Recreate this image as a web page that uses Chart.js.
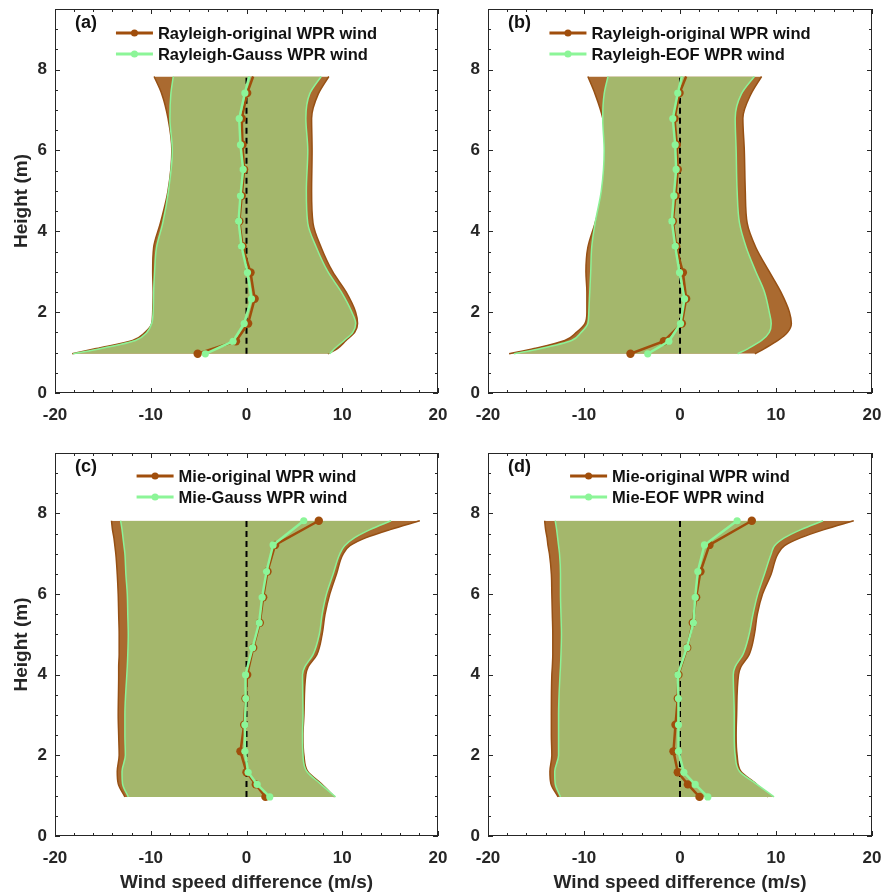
<!DOCTYPE html>
<html>
<head>
<meta charset="utf-8">
<script src="https://cdn.jsdelivr.net/npm/chart.js@4.4.1/dist/chart.umd.min.js"></script>
<style>
  body { margin: 0; background: #fff; }
  #wrap { position: relative; width: 882px; height: 894px; overflow: hidden; }
  canvas { position: absolute; }
</style>
</head>
<body>
<div id="wrap">
  <canvas id="chartA" width="470" height="430" style="left:0;top:0"></canvas>
  <canvas id="chartC" width="470" height="464" style="left:0;top:430px"></canvas>
  <canvas id="chartB" width="441" height="430" style="left:441px;top:0"></canvas>
  <canvas id="chartD" width="441" height="464" style="left:441px;top:430px"></canvas>
</div>
<script>
// heights (km) of the mean profiles
const rayleighH = [0.97, 1.28, 1.72, 2.33, 2.98, 3.63, 4.25, 4.88, 5.53, 6.14, 6.79, 7.42, 7.83];
const mieH = [0.97, 1.28, 1.58, 2.10, 2.76, 3.41, 4.00, 4.67, 5.29, 5.92, 6.56, 7.22, 7.82];
// heights at which the band edges are read
const bandRH = [0.97, 1.1, 1.3, 1.5, 1.72, 2.0, 2.5, 3.0, 3.6, 4.2, 5.0, 6.0, 6.8, 7.4, 7.83];
const bandMH = [0.97, 1.3, 1.6, 2.0, 2.5, 3.0, 4.0, 4.2, 4.5, 5.0, 5.5, 6.0, 6.5, 7.0, 7.2, 7.4, 7.6, 7.82];

const xTicks = [-20, -10, 0, 10, 20];
const yTicks = [0, 2, 4, 6, 8];

// (a) Rayleigh original vs Gauss
const aOrigMean = [-5.1, -1.1, 0.17, 0.85, 0.42, -0.42, -0.75, -0.5, -0.25, -0.42, -0.5, 0.07, 0.69];
const aGaussMean = [-4.3, -1.4, -0.24, 0.52, 0.1, -0.52, -0.83, -0.63, -0.35, -0.63, -0.76, -0.17, 0.28];
const aOrigLow = [-18.2, -15.7, -11.9, -10.6, -9.9, -9.8, -9.75, -9.8, -9.7, -9.0, -8.2, -7.8, -8.2, -8.85, -9.65];
const aOrigHigh = [8.5, 9.5, 10.4, 11.3, 11.6, 11.4, 10.4, 9.0, 7.8, 6.95, 6.8, 6.85, 6.8, 7.5, 8.6];
const aGaussLow = [-18.1, -15.2, -11.6, -10.4, -9.9, -9.75, -9.7, -9.6, -9.4, -8.75, -8.15, -7.75, -8.0, -7.9, -7.65];
const aGaussHigh = [8.7, 9.2, 10.2, 11.1, 11.4, 11.0, 9.9, 8.5, 7.3, 6.4, 6.25, 6.4, 6.2, 6.6, 7.8];

// (b) Rayleigh original vs EOF
const bOrigMean = [-5.16, -1.68, 0.19, 0.64, 0.3, -0.4, -0.75, -0.47, -0.23, -0.33, -0.57, -0.05, 0.64];
const bEofMean = [-3.36, -1.16, 0.05, 0.47, -0.05, -0.5, -0.85, -0.64, -0.4, -0.5, -0.75, -0.23, 0.19];
const bOrigLow = [-17.8, -15.2, -12.0, -10.8, -9.9, -9.7, -9.7, -9.8, -9.6, -8.85, -7.95, -7.7, -8.05, -8.85, -9.6];
const bOrigHigh = [7.8, 8.8, 10.2, 11.2, 11.6, 11.4, 10.5, 9.3, 7.9, 7.0, 6.8, 6.7, 6.55, 7.4, 8.5];
const bEofLow = [-17.3, -14.5, -11.3, -10.3, -9.6, -9.5, -9.4, -9.3, -9.2, -8.85, -8.2, -7.9, -8.05, -7.9, -7.5];
const bEofHigh = [6.0, 7.1, 8.5, 9.3, 9.5, 9.3, 8.8, 7.9, 6.9, 6.2, 5.95, 5.85, 5.75, 6.4, 7.75];

// (c) Mie original vs Gauss
const cOrigMean = [1.98, 0.97, 0.0, -0.63, -0.24, -0.1, 0.07, 0.7, 1.39, 1.74, 2.19, 2.99, 7.55];
const cGaussMean = [2.43, 1.11, 0.17, -0.17, -0.17, -0.07, -0.1, 0.63, 1.32, 1.63, 2.09, 2.78, 5.98];
const cOrigLow = [-12.7, -13.4, -13.5, -13.3, -13.35, -13.4, -13.35, -13.35, -13.3, -13.3, -13.35, -13.4, -13.5, -13.65, -13.75, -13.85, -14.0, -14.1];
const cOrigHigh = [9.2, 7.8, 6.4, 6.0, 5.9, 6.0, 6.2, 6.45, 7.35, 7.9, 8.2, 8.7, 9.4, 10.1, 10.8, 12.5, 15.0, 18.1];
const cGaussLow = [-12.35, -12.95, -13.0, -12.65, -12.7, -12.7, -12.5, -12.45, -12.4, -12.35, -12.4, -12.45, -12.6, -12.7, -12.8, -12.9, -13.0, -13.15];
const cGaussHigh = [9.3, 7.7, 6.3, 5.9, 5.85, 5.9, 5.85, 6.1, 6.95, 7.6, 7.9, 8.35, 9.05, 9.75, 10.25, 11.3, 12.9, 15.1];

// (d) Mie original vs EOF
const dOrigMean = [2.03, 0.82, -0.23, -0.68, -0.47, -0.23, -0.16, 0.75, 1.33, 1.68, 2.13, 3.07, 7.48];
const dEofMean = [2.9, 1.58, 0.4, -0.16, -0.16, -0.16, -0.23, 0.71, 1.4, 1.58, 1.86, 2.55, 5.95];
const dOrigLow = [-12.7, -13.45, -13.55, -13.35, -13.4, -13.4, -13.35, -13.3, -13.25, -13.25, -13.3, -13.35, -13.4, -13.6, -13.75, -13.85, -14.0, -14.1];
const dOrigHigh = [9.15, 7.9, 6.35, 5.95, 5.85, 5.9, 6.1, 6.35, 7.2, 7.75, 8.05, 8.6, 9.5, 10.2, 10.9, 12.6, 15.0, 18.1];
const dEofLow = [-12.45, -13.0, -13.05, -12.65, -12.65, -12.65, -12.5, -12.45, -12.4, -12.35, -12.4, -12.45, -12.45, -12.55, -12.65, -12.75, -12.85, -13.0];
const dEofHigh = [9.8, 7.9, 6.2, 5.75, 5.65, 5.65, 5.55, 5.75, 6.55, 7.2, 7.6, 8.1, 8.8, 9.5, 9.85, 10.9, 12.6, 14.9];

const FONT = "'Liberation Sans', Arial, sans-serif";
const INK = "#262626";
const brownFill = "rgb(170,106,48)";
const brownEdge = "rgb(150,80,20)";
const brownLine = "rgb(160,78,12)";
const greenFill = "rgb(164,183,108)";
const greenEdge = "rgb(140,242,150)";
const greenLine = "rgb(140,245,152)";

function pts(xs, ys) {
  return xs.map((v, i) => ({ x: v, y: ys[i] }));
}

// box, inward ticks, panel label and legend drawn inside the axes
const decoPlugin = {
  id: "deco",
  afterDraw(chart, args, opts) {
    const { ctx, chartArea: a, scales: { x, y } } = chart;
    ctx.save();
    ctx.strokeStyle = INK;
    ctx.lineWidth = 1;
    ctx.strokeRect(a.left + 0.5, a.top + 0.5, a.width - 1, a.height - 1);

    ctx.beginPath();
    for (let v = x.min; v <= x.max; v += 2) {
      const px = Math.round(x.getPixelForValue(v)) + 0.5;
      const len = v % 10 === 0 ? 5 : 3;
      ctx.moveTo(px, a.bottom); ctx.lineTo(px, a.bottom - len);
      ctx.moveTo(px, a.top); ctx.lineTo(px, a.top + len);
    }
    for (let v = 0; v <= y.max; v += 0.5) {
      const py = Math.round(y.getPixelForValue(v)) + 0.5;
      const len = v % 2 === 0 ? 5 : 3;
      ctx.moveTo(a.left, py); ctx.lineTo(a.left + len, py);
      ctx.moveTo(a.right, py); ctx.lineTo(a.right - len, py);
    }
    ctx.stroke();

    // panel label
    ctx.fillStyle = "#111";
    ctx.font = "bold 18px " + FONT;
    ctx.textBaseline = "middle";
    ctx.textAlign = "left";
    ctx.fillText(opts.label, a.left + 20, a.top + 14);

    // legend
    const items = chart.data.datasets.filter(d => d.inLegend);
    ctx.font = "bold 16.5px " + FONT;
    const textW = Math.max(...items.map(d => ctx.measureText(d.label).width));
    const lineW = 37, gap = 5;
    const x0 = (a.left + a.right) / 2 - (lineW + gap + textW) / 2;
    items.forEach((d, i) => {
      const cy = a.top + opts.legendTop + i * 21;
      ctx.strokeStyle = d.borderColor;
      ctx.lineWidth = 3;
      ctx.beginPath();
      ctx.moveTo(x0, cy); ctx.lineTo(x0 + lineW, cy);
      ctx.stroke();
      ctx.fillStyle = d.borderColor;
      ctx.beginPath();
      ctx.arc(x0 + lineW / 2, cy, 3.5, 0, Math.PI * 2);
      ctx.fill();
      ctx.fillStyle = "#111";
      ctx.fillText(d.label, x0 + lineW + gap, cy + 1);
    });
    ctx.restore();
  }
};

function drawPanel(id, cfg) {
  const ctx = document.getElementById(id).getContext("2d");
  const edge = (data, color, fill, bg, order) => ({
    data, borderColor: color, backgroundColor: bg || color, borderWidth: 1.5,
    pointRadius: 0, fill: fill, cubicInterpolationMode: "monotone", order
  });
  const topDot = (r) => (c) => (!cfg.topDot && c.dataIndex === c.dataset.data.length - 1 ? 0 : r);

  new Chart(ctx, {
    type: "line",
    data: {
      datasets: [
        edge(pts(cfg.origLow, cfg.bandH), brownEdge, false, null, 10),
        edge(pts(cfg.origHigh, cfg.bandH), brownEdge, "-1", brownFill, 10),
        edge(pts(cfg.newLow, cfg.bandH), greenEdge, false, null, 8),
        edge(pts(cfg.newHigh, cfg.bandH), greenEdge, "-1", greenFill, 8),
        {
          data: [{ x: 0, y: cfg.meanH[0] }, { x: 0, y: cfg.meanH[cfg.meanH.length - 1] }],
          borderColor: "#000", borderWidth: 2, borderDash: [6, 4], pointRadius: 0, fill: false, order: 6
        },
        {
          label: cfg.origLabel, inLegend: true,
          data: pts(cfg.origMean, cfg.meanH),
          borderColor: brownLine, backgroundColor: brownLine, borderWidth: 2.5,
          pointRadius: topDot(4.2), pointBorderWidth: 0, fill: false, order: 4
        },
        {
          label: cfg.newLabel, inLegend: true,
          data: pts(cfg.newMean, cfg.meanH),
          borderColor: greenLine, backgroundColor: greenLine, borderWidth: 2.5,
          pointRadius: topDot(3.6), pointBorderWidth: 0, fill: false, order: 2
        }
      ]
    },
    options: {
      responsive: false,
      animation: false,
      events: [],
      indexAxis: "y",
      layout: { padding: cfg.padding },
      plugins: {
        legend: { display: false },
        tooltip: { enabled: false },
        deco: { label: cfg.label, legendTop: cfg.legendTop }
      },
      scales: {
        x: {
          type: "linear", min: -20, max: 20,
          afterBuildTicks: s => { s.ticks = xTicks.map(v => ({ value: v })); },
          afterFit: s => { s.height = cfg.xAxisH; s.paddingLeft = 0; s.paddingRight = 0; },
          grid: { display: false, drawTicks: false },
          border: { display: false },
          ticks: { color: INK, padding: 12, maxRotation: 0, font: { family: FONT, size: 17, weight: "bold" } },
          title: {
            display: !!cfg.xTitle, text: cfg.xTitle || "", color: INK,
            padding: { top: 0, bottom: 0 },
            font: { family: FONT, size: 19, weight: "bold" }
          }
        },
        y: {
          type: "linear", min: 0, max: 9.5,
          afterBuildTicks: s => { s.ticks = yTicks.map(v => ({ value: v })); },
          afterFit: s => { s.width = cfg.yAxisW; s.paddingTop = 0; s.paddingBottom = 0; },
          grid: { display: false, drawTicks: false },
          border: { display: false },
          ticks: { color: INK, padding: 8, font: { family: FONT, size: 17, weight: "bold" } },
          title: {
            display: !!cfg.yTitle, text: cfg.yTitle || "", color: INK,
            padding: { top: 10, bottom: 0 },
            font: { family: FONT, size: 19, weight: "bold" }
          }
        }
      }
    },
    plugins: [decoPlugin]
  });
}

drawPanel("chartA", {
  label: "(a)", origLabel: "Rayleigh-original WPR wind", newLabel: "Rayleigh-Gauss WPR wind",
  meanH: rayleighH, bandH: bandRH, topDot: false,
  origMean: aOrigMean, newMean: aGaussMean,
  origLow: aOrigLow, origHigh: aOrigHigh, newLow: aGaussLow, newHigh: aGaussHigh,
  yTitle: "Height (m)", yAxisW: 55, xAxisH: 37, legendTop: 24,
  padding: { top: 9, right: 32, left: 0, bottom: 0 }
});
drawPanel("chartB", {
  label: "(b)", origLabel: "Rayleigh-original WPR wind", newLabel: "Rayleigh-EOF WPR wind",
  meanH: rayleighH, bandH: bandRH, topDot: false,
  origMean: bOrigMean, newMean: bEofMean,
  origLow: bOrigLow, origHigh: bOrigHigh, newLow: bEofLow, newHigh: bEofHigh,
  yAxisW: 47, xAxisH: 37, legendTop: 24,
  padding: { top: 9, right: 10, left: 0, bottom: 0 }
});
drawPanel("chartC", {
  label: "(c)", origLabel: "Mie-original WPR wind", newLabel: "Mie-Gauss WPR wind",
  meanH: mieH, bandH: bandMH, topDot: true,
  origMean: cOrigMean, newMean: cGaussMean,
  origLow: cOrigLow, origHigh: cOrigHigh, newLow: cGaussLow, newHigh: cGaussHigh,
  yTitle: "Height (m)", xTitle: "Wind speed difference (m/s)", yAxisW: 55, xAxisH: 58, legendTop: 23,
  padding: { top: 23, right: 32, left: 0, bottom: 0 }
});
drawPanel("chartD", {
  label: "(d)", origLabel: "Mie-original WPR wind", newLabel: "Mie-EOF WPR wind",
  meanH: mieH, bandH: bandMH, topDot: true,
  origMean: dOrigMean, newMean: dEofMean,
  origLow: dOrigLow, origHigh: dOrigHigh, newLow: dEofLow, newHigh: dEofHigh,
  xTitle: "Wind speed difference (m/s)", yAxisW: 47, xAxisH: 58, legendTop: 23,
  padding: { top: 23, right: 10, left: 0, bottom: 0 }
});
</script>
</body>
</html>
